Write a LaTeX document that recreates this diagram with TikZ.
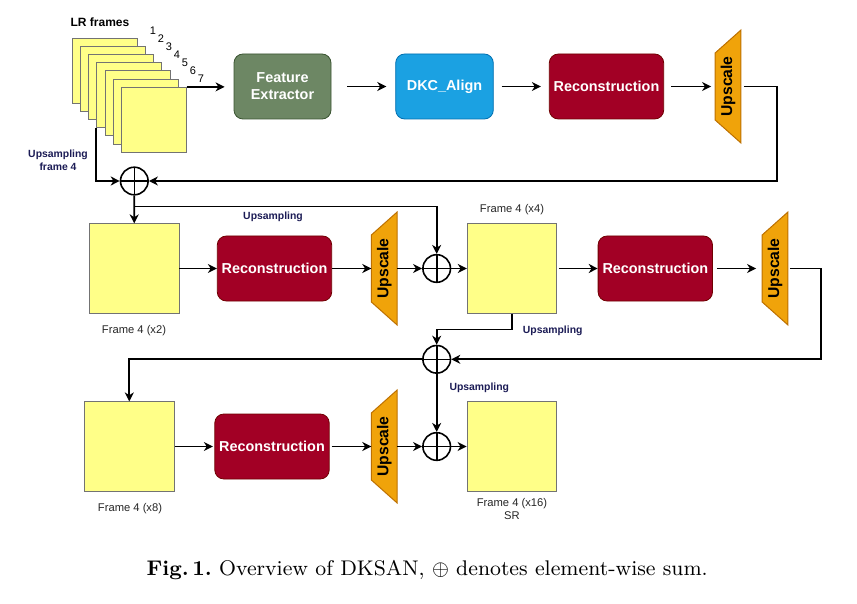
\documentclass[tikz,border=0pt]{standalone}
\usepackage{graphicx}
\usepackage{fontspec}
\newfontfamily\dsans{Liberation Sans}
\usetikzlibrary{arrows.meta,calc,backgrounds}
\definecolor{frameY}{HTML}{FFFF88}
\definecolor{feG}{HTML}{6D8764}
\definecolor{feGe}{HTML}{3A5431}
\definecolor{dkB}{HTML}{1BA1E2}
\definecolor{dkBe}{HTML}{006EAF}
\definecolor{recR}{HTML}{A20025}
\definecolor{recRe}{HTML}{6F0000}
\definecolor{upO}{HTML}{F0A30A}
\definecolor{upOe}{HTML}{BD7000}
\definecolor{navyT}{HTML}{1B1B55}
\newcommand\trapbg[1]{%
  \begin{scope}[on background layer]
    \filldraw[fill=upO, draw=upOe, line width=1pt]
      (#1.north east) -- (#1.south east) -- ($(#1.south west)+(0,-23)$)
      -- ($(#1.north west)+(0,23)$) -- cycle;
  \end{scope}}
\begin{document}
\begin{tikzpicture}[x=1pt,y=-1pt,
  lr/.style={rectangle, draw=black!55, fill=frameY, line width=0.8pt,
    minimum size=65pt, inner sep=0pt, anchor=north west},
  bigfr/.style={rectangle, draw=black!55, fill=frameY, line width=0.9pt,
    minimum width=89.5pt, minimum height=89.3pt, inner sep=0pt},
  blk/.style={rectangle, rounded corners=9pt, minimum height=65pt, text=white,
    font=\dsans\bfseries\fontsize{14.4}{17}\selectfont, line width=0.8pt,
    align=center, inner sep=0pt},
  recb/.style={blk, fill=recR, draw=recRe, minimum width=114.4pt},
  ups/.style={rectangle, minimum width=25.4pt, minimum height=112.5pt, inner sep=0pt,
    font=\dsans\bfseries\fontsize{15.7}{18}\selectfont},
  sumc/.style={circle, draw, fill=white, line width=1.6pt, minimum size=27.6pt,
    inner sep=0pt,
    path picture={\draw[line width=1.6pt]
      (path picture bounding box.north) -- (path picture bounding box.south)
      (path picture bounding box.west) -- (path picture bounding box.east);}},
  con/.style={line width=1.7pt, -{Stealth[length=9pt,width=9pt,inset=2.8pt]}},
  lbl/.style={font=\dsans\fontsize{11.2}{13}\selectfont, text=black!85, inner sep=0pt, align=center},
  num/.style={font=\dsans\fontsize{11}{13}\selectfont, inner sep=0pt},
  upl/.style={font=\dsans\bfseries\fontsize{10.4}{12.5}\selectfont, text=navyT,
    inner sep=0pt, align=center}
]
\useasboundingbox (0,0) rectangle (857,604);

% LR frames stack
\foreach \k in {1,...,7}{
  \node[lr] (fr\k) at ({71.7+8.2*(\k-1)},{37.7+8.2*(\k-1)}) {};
  \node[num] (n\k) at ({153+8*(\k-1)},{30.7+8*(\k-1)}) {\k};
}
\node[font=\dsans\bfseries\fontsize{12}{14}\selectfont, inner sep=0pt] (lrt) at (100,22.7) {LR frames};
\node[upl] (upf) at (58,160.5) {Upsampling\\frame 4};

% Row 1
\node[blk, fill=feG, draw=feGe, minimum width=97pt] (fe) at (282.5,86.5) {Feature\\Extractor};
\node[blk, fill=dkB, draw=dkBe, minimum width=97.6pt] (dkc) at (444.5,86.5) {DKC\_Align};
\node[recb] (rec1) at (606.5,86.5) {Reconstruction};
\node[ups] (up1) at (728,86.5) {\rotatebox{90}{Upscale}};
\trapbg{up1}

\node[sumc] (c1) at (134.3,181) {};

% Row 2
\node[bigfr] (fx2) at (134.2,268.5) {};
\node[recb] (rec2) at (274.5,268.5) {Reconstruction};
\node[ups] (up2) at (384.2,268.5) {\rotatebox{90}{Upscale}};
\trapbg{up2}
\node[sumc] (c2) at (436.7,268.5) {};
\node[bigfr] (fx4) at (512,268.5) {};
\node[recb] (rec3) at (655.3,268.5) {Reconstruction};
\node[ups] (up3) at (775,268.5) {\rotatebox{90}{Upscale}};
\trapbg{up3}

\node[sumc] (c3) at (436.7,359.3) {};

% Row 3
\node[bigfr] (fx8) at (129.3,446.5) {};
\node[recb] (rec4) at (272,446.5) {Reconstruction};
\node[ups] (up4) at (384.2,446.5) {\rotatebox{90}{Upscale}};
\trapbg{up4}
\node[sumc] (c4) at (436.7,446.5) {};
\node[bigfr] (fx16) at (511.8,446.5) {};

% labels
\node[lbl] (l2) at (134,330.7) {Frame 4 (x2)};
\node[lbl] (l4) at (512,209.3) {Frame 4 (x4)};
\node[lbl] (l8) at (130,509) {Frame 4 (x8)};
\node[lbl] (l16) at (512,508.5) {Frame 4 (x16)\\SR};
\node[upl] (u2) at (273,217.3) {Upsampling};
\node[upl] (u4) at (552.7,331.3) {Upsampling};
\node[upl] (u8) at (479.3,387.7) {Upsampling};

% connectors row 1
\draw[con, shorten >=9pt] (fr7.north east) -- (fr7.north east -| fe.west);
\draw[con, shorten <=16pt, shorten >=9pt] (fe) -- (dkc);
\draw[con, shorten <=8pt, shorten >=8pt] (dkc) -- (rec1);
\draw[con, shorten <=7pt, shorten >=4pt] (rec1) -- (up1);
\draw[con, shorten <=3pt] (up1.east) -- ++(36,0) |- (c1.east);
\draw[con] (fr4.south west) |- (c1.west);
\draw[con] (c1.south) -- (fx2.north);
\coordinate (b1) at ([yshift=-10.9pt]c1.south);
\draw[con] (b1) -| (c2.north);

% connectors row 2
\draw[con] (fx2) -- (rec2);
\draw[con] (rec2) -- (up2);
\draw[con] (up2) -- (c2);
\draw[con] (c2) -- (fx4);
\draw[con, shorten <=2pt] (fx4) -- (rec3);
\draw[con, shorten <=4pt, shorten >=6pt] (rec3) -- (up3);
\draw[con, shorten <=2pt] (up3.east) -- ++(33,0) |- (c3.east);
\draw[con] (fx4.south) -- ++(0,16) -| (c3.north);
\draw[con] (c3.west) -| (fx8.north);
\draw[con] (c3.south) -- (c4.north);

% connectors row 3
\draw[con, shorten >=1.5pt] (fx8) -- (rec4);
\draw[con, shorten <=2pt] (rec4) -- (up4);
\draw[con] (up4) -- (c4);
\draw[con] (c4) -- (fx16);

% caption
\node[anchor=base, inner sep=0pt] (cap) at (427.2,575) {\resizebox{561pt}{!}{\fontsize{9}{11}\selectfont\textbf{Fig.\,1.}\ Overview of DKSAN, $\oplus$ denotes element-wise sum.}};
\end{tikzpicture}
\end{document}
